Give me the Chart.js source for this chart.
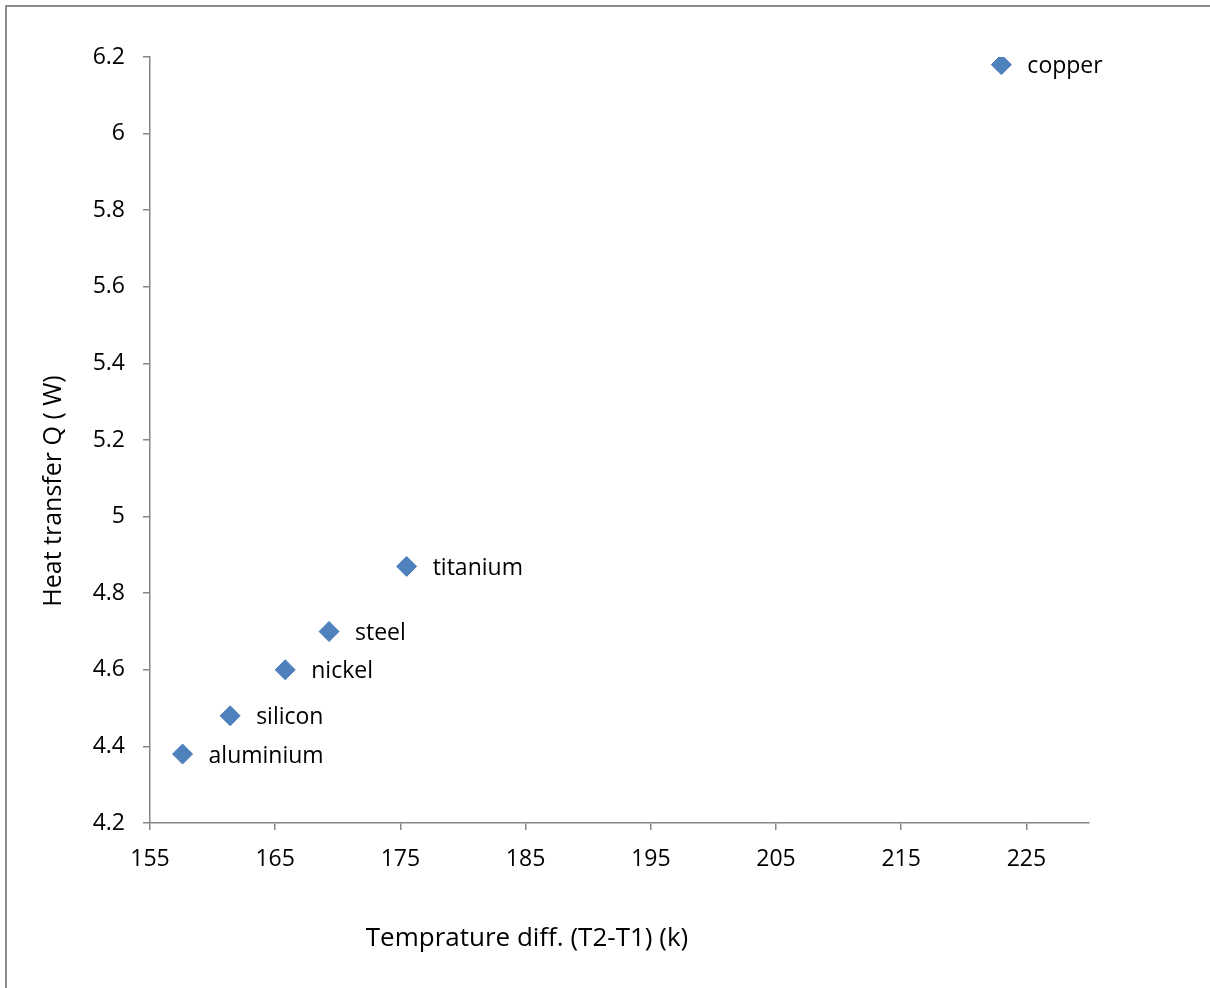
<!DOCTYPE html>
<html>
<head>
<meta charset="utf-8">
<script src="https://cdn.jsdelivr.net/npm/chart.js@4/dist/chart.umd.min.js"></script>
<style>
  body { margin: 0; background: #fff; }
  canvas { display: block; }
</style>
</head>
<body>
<canvas id="chart" width="1210" height="988"></canvas>
<script>
const materials = ['copper', 'titanium', 'steel', 'nickel', 'silicon', 'aluminium'];
const tempDiff = [223.0, 175.5, 169.3, 165.8, 161.4, 157.6];
const heatTransfer = [6.18, 4.87, 4.70, 4.60, 4.48, 4.38];
const xTicks = [155, 165, 175, 185, 195, 205, 215, 225];
const yTicks = [4.2, 4.4, 4.6, 4.8, 5, 5.2, 5.4, 5.6, 5.8, 6, 6.2];

const FONT = '"Open Sans", sans-serif';
const AXIS_GREY = '#868686';

// frame, point labels and axis titles
const extras = {
  id: 'extras',
  beforeDraw(chart) {
    const ctx = chart.ctx;
    ctx.save();
    ctx.fillStyle = '#fff';
    ctx.fillRect(0, 0, chart.width, chart.height);
    ctx.strokeStyle = '#8c8c8c';
    ctx.lineWidth = 2;
    ctx.strokeRect(6, 6, chart.width + 20, chart.height + 20);
    ctx.restore();
  },
  afterDraw(chart) {
    const ctx = chart.ctx;
    const meta = chart.getDatasetMeta(0);
    ctx.save();
    ctx.fillStyle = '#000';
    ctx.font = '23px ' + FONT;
    ctx.textAlign = 'left';
    ctx.textBaseline = 'middle';
    meta.data.forEach((pt, i) => {
      ctx.fillText(materials[i], pt.x + 26, pt.y + 2);
    });

    ctx.textAlign = 'center';
    ctx.font = '26px ' + FONT;
    ctx.fillText('Temprature diff. (T2-T1) (k)', 527, 939);

    ctx.font = '25px ' + FONT;
    ctx.translate(54, 491);
    ctx.rotate(-Math.PI / 2);
    ctx.fillText('Heat transfer Q ( W)', 0, 0);
    ctx.restore();
  }
};

new Chart(document.getElementById('chart'), {
  type: 'scatter',
  data: {
    datasets: [{
      label: 'Q',
      data: tempDiff.map((x, i) => ({ x: x, y: heatTransfer[i] })),
      pointStyle: 'rectRot',
      pointRadius: 10,
      pointHoverRadius: 10,
      backgroundColor: '#4F81BD',
      borderColor: '#4A7EBB',
      borderWidth: 1
    }]
  },
  options: {
    responsive: false,
    animation: false,
    devicePixelRatio: 1,
    layout: { padding: { top: 57, right: 121, bottom: 0, left: 0 } },
    plugins: {
      legend: { display: false },
      tooltip: { enabled: false }
    },
    scales: {
      x: {
        type: 'linear',
        min: 155,
        max: 230,
        afterBuildTicks: (scale) => { scale.ticks = xTicks.map(v => ({ value: v })); },
        afterFit: (scale) => { scale.height = 165; },
        grid: { drawOnChartArea: false, drawTicks: true, tickLength: 7, color: AXIS_GREY, lineWidth: 1.5 },
        border: { display: true, color: AXIS_GREY, width: 1.5 },
        ticks: {
          color: '#000',
          font: { family: FONT, size: 23 },
          padding: 16,
          maxRotation: 0,
          autoSkip: false
        }
      },
      y: {
        type: 'linear',
        min: 4.2,
        max: 6.2,
        afterBuildTicks: (scale) => { scale.ticks = yTicks.map(v => ({ value: v })); },
        afterFit: (scale) => { scale.width = 150; },
        grid: { drawOnChartArea: false, drawTicks: true, tickLength: 7, color: AXIS_GREY, lineWidth: 1.5 },
        border: { display: true, color: AXIS_GREY, width: 1.5 },
        ticks: {
          color: '#000',
          font: { family: FONT, size: 23 },
          padding: 18,
          autoSkip: false,
          callback: (v) => String(Math.round(v * 10) / 10)
        }
      }
    }
  },
  plugins: [extras]
});
</script>
</body>
</html>
